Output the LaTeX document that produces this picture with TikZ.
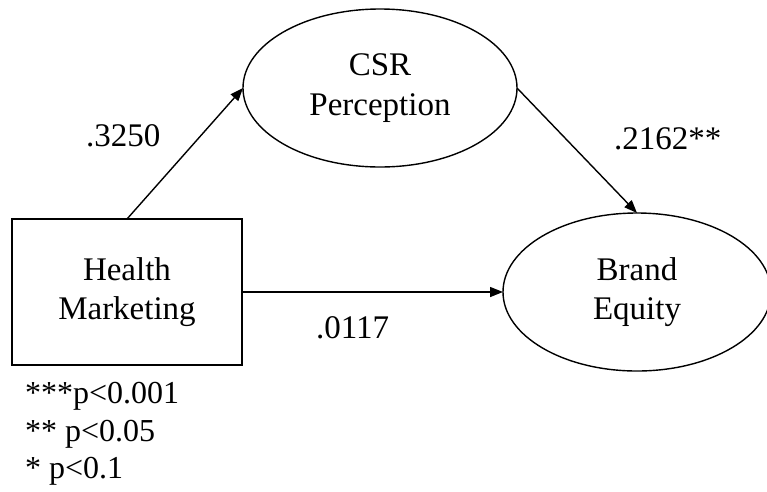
\documentclass[tikz,border=0pt]{standalone}
\usepackage{fontspec}
\setmainfont{Liberation Serif}
\usetikzlibrary{shapes.geometric,arrows.meta}
\begin{document}
\begin{tikzpicture}[x=1pt,y=-1pt,
  every node/.style={inner sep=0pt, outer sep=0pt},
  nodefont/.style={font=\fontsize{33}{39.5}\selectfont, align=center},
  boxnode/.style={nodefont, draw, line width=1.4pt, minimum width=230pt, minimum height=146pt},
  ovalnode/.style={nodefont, ellipse, draw, line width=1.4pt, minimum height=158pt},
  coef/.style={font=\fontsize{33}{39.5}\selectfont, anchor=base west},
  legend/.style={font=\fontsize{32}{38}\selectfont, anchor=base west},
  conn/.style={line width=1.4pt, -{Triangle[length=13pt,width=10pt]}}
]
\clip (0,0) rectangle (767,491);
\fill[white] (0,0) rectangle (767,491);
\node[boxnode] (hm) at (127,292) {Health\\Marketing};
\node[ovalnode, minimum width=274pt] (csr) at (380,88) {CSR\\Perception};
\node[ovalnode, minimum width=268pt] (be) at (637,292) {Brand\\Equity};
\draw[conn] (hm.north) -- (csr.west);
\draw[conn] (csr.east) -- (be.north);
\draw[conn] (hm.east) -- (be.west);
\node[coef] (c1) at (86,146) {.3250};
\node[coef] (c2) at (614,149) {.2162**};
\node[coef] (c3) at (316,338) {.0117};
\node[legend] (l1) at (25,403) {***p<0.001};
\node[legend] (l2) at (25,441) {** p<0.05};
\node[legend] (l3) at (25,478) {* p<0.1};
\end{tikzpicture}
\end{document}
